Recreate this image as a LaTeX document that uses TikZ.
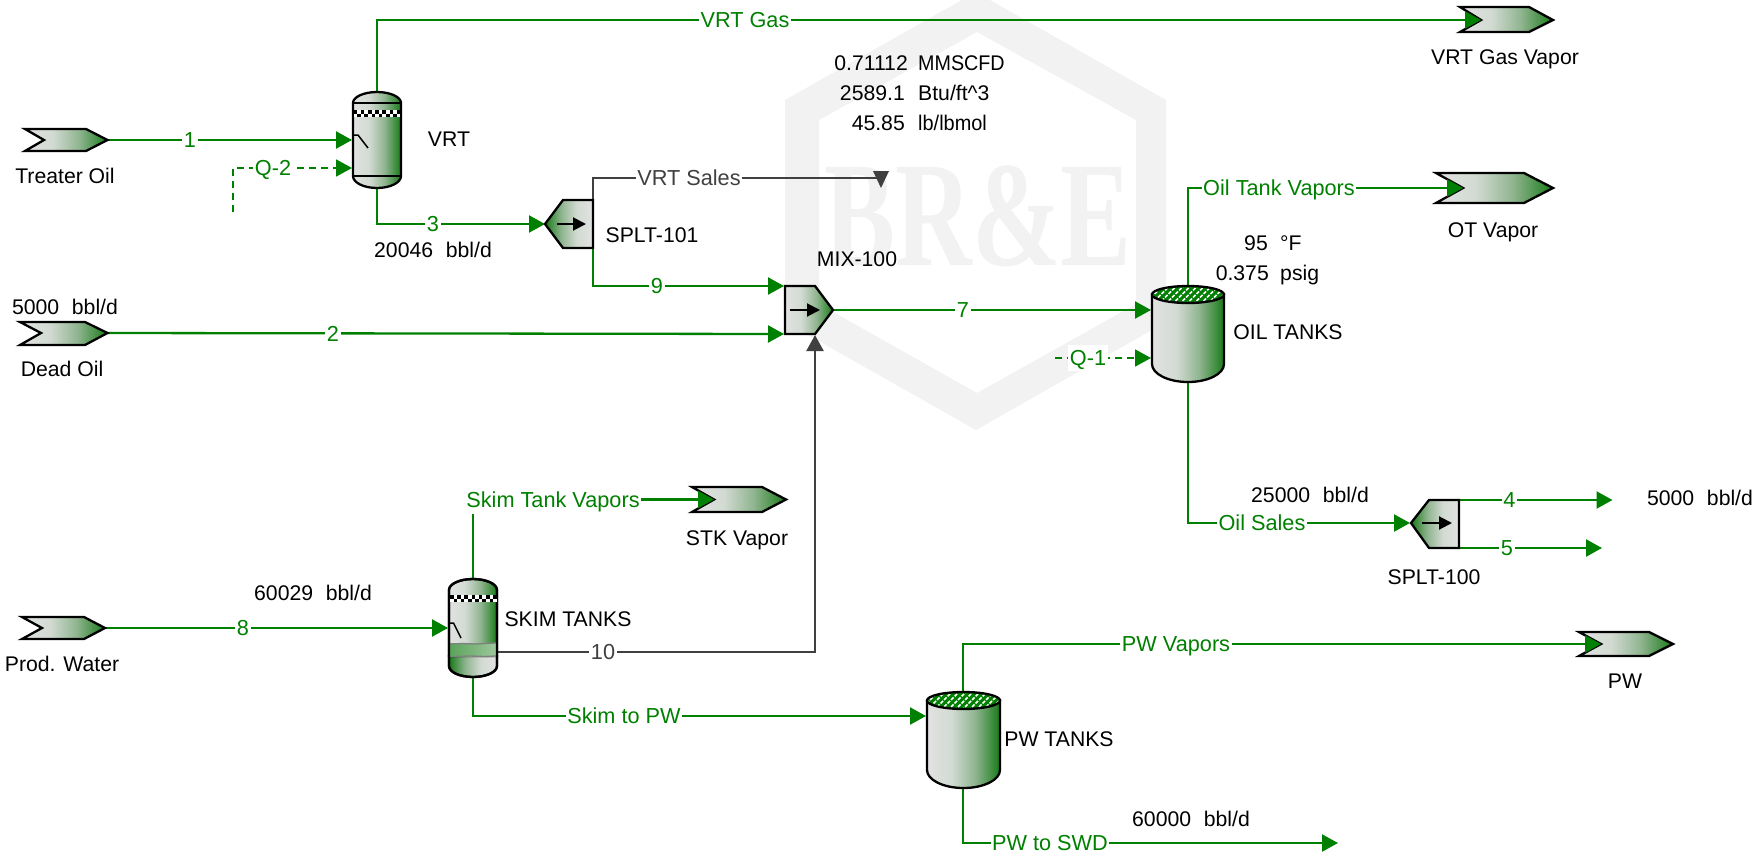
\documentclass[tikz,border=0pt]{standalone}
\usepackage{fontspec}
\setmainfont{Liberation Sans}
\newfontfamily\wmfont{Liberation Serif}
\usetikzlibrary{arrows.meta}
\definecolor{strm}{HTML}{008000}
\definecolor{darkstrm}{HTML}{404040}
\definecolor{wm}{HTML}{F2F2F2}
\definecolor{cA}{HTML}{E2E2E2}
\definecolor{cB}{HTML}{D2DAD2}
\definecolor{cC}{HTML}{8FB48F}
\definecolor{cD}{HTML}{187A18}
\definecolor{liqA}{HTML}{5BA35B}
\definecolor{liqB}{HTML}{9CC79C}
\pgfdeclarehorizontalshading{eqpshade}{100bp}{color(0bp)=(cA);color(25bp)=(cA);color(42bp)=(cB);color(58bp)=(cC);color(75bp)=(cD);color(100bp)=(cD)}
\tikzset{
  txt/.style={font=\fontsize{21.2}{25}\selectfont,text=black,inner sep=0pt,text height=15.3pt,text depth=0pt},
  slabel/.style={font=\fontsize{21.7}{25}\selectfont,text=strm,fill=white,inner xsep=1.5pt,inner ysep=5pt,text height=15.3pt,text depth=0pt},
  dlabel/.style={slabel,text=darkstrm},
  stream/.style={draw=strm,line width=2.3pt,-{Triangle[length=16pt,width=17pt]}},
  streamflat/.style={draw=strm,line width=2.3pt},
  energy/.style={draw=strm,line width=1.8pt,dash pattern=on 7pt off 5pt,-{Triangle[length=16pt,width=17pt]}},
  dark/.style={draw=darkstrm,line width=2.3pt},
  eqp/.style={shading=eqpshade,draw=black,line width=2.3pt,line join=miter},
  eqprev/.style={shading=eqpshade,shading angle=180,draw=black,line width=2.3pt},
  flowmark/.style={draw=black,line width=2pt,-{Triangle[length=13pt,width=13pt]}},
  weir/.style={draw=black,line width=1.5pt}
}
% x-notchtip x-notch x-shoulder x-tip ytop ymid ybot
\newcommand{\chev}[7]{\shadedraw[eqp] (#1,#5) -- (#3,#5) -- (#4,#6) -- (#3,#7) -- (#1,#7) -- (#2,#6) -- cycle;}
% centre x, top-ellipse y, x radius
\newcommand{\tanktop}[3]{%
  \begin{scope}
    \clip (#1,#2) ellipse [x radius=#3pt,y radius=8.5pt];
    \fill[strm] (#1-#3,#2-9) rectangle (#1+#3,#2+9);
    \foreach \k in {-48,-41,...,48}{
      \draw[white,line width=1.5pt,dash pattern=on 3.5pt off 1.5pt] (#1+\k-10,#2+10) -- (#1+\k+10,#2-10);
    }
  \end{scope}
  \draw[black,line width=2.3pt] (#1,#2) ellipse [x radius=#3pt,y radius=8.5pt];}
% x0, y0, number of columns : two rows of checker squares
\newcommand{\checker}[3]{%
  \fill[white] (#1,#2) rectangle (#1+#3*3.6,#2+7.2);
  \foreach \c in {1,...,#3}{
    \pgfmathsetmacro{\xa}{#1+(\c-1)*3.6}
    \pgfmathsetmacro{\rowtop}{mod(\c,2)==1 ? 0 : 3.6}
    \fill[black] (\xa,#2+\rowtop) rectangle (\xa+3.6,#2+\rowtop+3.6);
  }}
\begin{document}
\begin{tikzpicture}[x=1pt,y=-1pt]
\useasboundingbox (0,0) rectangle (1761,854);
% watermark
\begin{scope}
  \clip (0,0) rectangle (1761,854);
  \fill[wm,even odd rule] (976,-8) -- (1166,100) -- (1166,322) -- (976,430) -- (785,322) -- (785,100) -- cycle
     (977,32) -- (1136,120) -- (1136,304) -- (977,393) -- (819,304) -- (819,120) -- cycle;
  \node[inner sep=0pt,text=wm,font=\wmfont\bfseries\fontsize{150}{150}\selectfont] (wmtext) at (978,216) {\scalebox{.71}[1]{BR\&E}};
\end{scope}

% port coordinates
\coordinate (treaterOut) at (107.5,140);
\coordinate (vrtInA) at (352,140);
\coordinate (vrtInB) at (352,168);
\coordinate (qtwoFree) at (233,212);
\coordinate (vrtTop) at (377,92);
\coordinate (vrtBot) at (377,188);
\coordinate (vrtGasEnd) at (1481,20);
\coordinate (spltAIn) at (545,224);
\coordinate (spltATop) at (593,200);
\coordinate (spltABot) at (593,248);
\coordinate (vrtSalesEnd) at (881,178);
\coordinate (mixInA) at (784,286);
\coordinate (deadOut) at (107.5,333);
\coordinate (mixInB) at (784,334);
\coordinate (mixInC) at (815,335);
\coordinate (mixOut) at (833,310);
\coordinate (oilIn) at (1151,310);
\coordinate (oilQ) at (1151,358);
\coordinate (qoneFree) at (1055,358);
\coordinate (oilTop) at (1188,286);
\coordinate (oilBot) at (1188,382);
\coordinate (otEnd) at (1463,188);
\coordinate (spltBIn) at (1410,523);
\coordinate (spltBTop) at (1459,500);
\coordinate (spltBBot) at (1459,548);
\coordinate (fourEnd) at (1612.5,500);
\coordinate (fiveEnd) at (1602,548);
\coordinate (prodOut) at (105,628);
\coordinate (skimIn) at (448,628);
\coordinate (skimTop) at (473,579);
\coordinate (skimBot) at (473,677);
\coordinate (skimSide) at (497,652);
\coordinate (stkEnd) at (714,499.5);
\coordinate (pwIn) at (926,716);
\coordinate (pwTop) at (963,692);
\coordinate (pwBot) at (963,788);
\coordinate (pwEnd) at (1601,644);
\coordinate (swdEnd) at (1338,843);

% connectors
\draw[stream] (treaterOut) -- (vrtInA);
\draw[energy] (qtwoFree) |- (vrtInB);
\draw[stream] (vrtTop) |- (vrtGasEnd);
\draw[stream] (vrtBot) |- (spltAIn);
\draw[dark] (spltATop) |- (vrtSalesEnd);
\fill[darkstrm] (873,171) -- (889,171) -- (881,188) -- cycle;
\draw[stream] (spltABot) |- (mixInA);
\draw[stream] (deadOut) -- (mixInB);
\draw[stream] (mixOut) -- (oilIn);
\draw[energy] (qoneFree) -- (oilQ);
\draw[stream] (oilTop) |- (otEnd);
\draw[stream] (oilBot) |- (spltBIn);
\draw[stream] (spltBTop) -- (fourEnd);
\draw[stream] (spltBBot) -- (fiveEnd);
\draw[stream] (prodOut) -- (skimIn);
\draw[streamflat] (skimTop) -- ++(0,-80);
\draw[stream] (473,499.5) -- (stkEnd);
\draw[dark,-{Triangle[length=16pt,width=17pt]}] (skimSide) -| (mixInC);
\draw[stream] (skimBot) |- (pwIn);
\draw[stream] (pwTop) |- (pwEnd);
\draw[stream] (pwBot) |- (swdEnd);

% feed chevrons
\chev{25}{44}{86}{107.5}{129}{140}{151}
\chev{20}{41}{85}{107.5}{322}{333}{345}
\chev{22}{42}{84}{105}{617}{628}{639}

% vapor chevrons: shape first, then the line end on top
\chev{1460}{1481}{1529}{1553}{7}{20}{32}
\draw[stream] (1458,20) -- (vrtGasEnd);
\chev{1436}{1463}{1524}{1553}{173}{188}{203}
\draw[stream] (1442,188) -- (otEnd);
\chev{692}{714}{762}{786}{487}{499.5}{512}
\draw[stream] (693,499.5) -- (stkEnd);
\chev{1579}{1601}{1649}{1673}{632}{644}{656}
\draw[stream] (1580,644) -- (pwEnd);

% VRT vessel
\shadedraw[eqp] (353,103) arc[start angle=180,end angle=0,x radius=24pt,y radius=11pt] -- (401,176) arc[start angle=0,end angle=-180,x radius=24pt,y radius=12pt] -- cycle;
\draw[black,line width=1.5pt] (353,103) -- (401,103) (353,176) -- (401,176);
\checker{353.5}{110}{13}
\draw[weir] (354,135) -- (358,135) -- (368,148);

% Skim tank vessel
\shadedraw[eqp] (449,590) arc[start angle=180,end angle=0,x radius=24pt,y radius=11pt] -- (497,656) -- (449,656) -- cycle;
\shadedraw[eqprev] (449,656) -- (497,656) -- (497,666) arc[start angle=0,end angle=-180,x radius=24pt,y radius=11pt] -- cycle;
\shade[left color=liqA,right color=liqB] (450,643) -- (496,643) -- (496,656) -- (450,656) -- cycle;
\draw[gray,line width=1.3pt] (450,644) -- (462,643.5) -- (475,644) -- (496,643);
\draw[gray,line width=1.3pt] (450,656.5) -- (470,656) -- (485,656.5) -- (496,656);
\draw[black,line width=2.3pt] (449,590) arc[start angle=180,end angle=0,x radius=24pt,y radius=11pt] -- (497,666) arc[start angle=0,end angle=-180,x radius=24pt,y radius=11pt] -- cycle;
\checker{450}{595}{13}
\draw[weir] (450,623) -- (453.5,623) -- (461,638);

% splitters and mixer
\shadedraw[eqprev] (545,224) -- (563,200) -- (593,200) -- (593,248) -- (563,248) -- cycle;
\draw[flowmark] (557,224) -- (586,224);
\shadedraw[eqp] (785,286) -- (815,286) -- (833,310) -- (815,334) -- (785,334) -- cycle;
\draw[flowmark] (790,310) -- (820,310);
\shadedraw[eqprev] (1411,523) -- (1429,500) -- (1459,500) -- (1459,548) -- (1429,548) -- cycle;
\draw[flowmark] (1422,523) -- (1452,523);

% tanks
\shadedraw[eqp] (1152,294.5) -- (1152,364) arc[start angle=180,end angle=360,x radius=36pt,y radius=18pt] -- (1224,294.5) -- cycle;
\tanktop{1188}{294.5}{36}
\shadedraw[eqp] (927,700.5) -- (927,770) arc[start angle=180,end angle=360,x radius=36.5pt,y radius=18pt] -- (1000,700.5) -- cycle;
\tanktop{963.5}{700.5}{36.5}

% stream labels
\node[slabel] (l1) at (190,140) {1};
\node[slabel] (lq2) at (273,168) {Q-2};
\node[slabel] (l3) at (433,224) {3};
\node[slabel] (lvg) at (745,20) {VRT Gas};
\node[dlabel] (lvs) at (689,178) {VRT Sales};
\node[slabel] (l9) at (657,286) {9};
\node[slabel] (l2) at (333,333.5) {2};
\node[slabel] (l7) at (963,310) {7};
\node[slabel] (lq1) at (1088,358) {Q-1};
\node[slabel] (lotv) at (1279,188) {Oil Tank Vapors};
\node[slabel] (los) at (1262,523) {Oil Sales};
\node[slabel] (l4) at (1509.5,500) {4};
\node[slabel] (l5) at (1507,548) {5};
\node[slabel] (l8) at (243,628) {8};
\node[slabel,minimum height=28pt] (lstv) at (553,499.5) {Skim Tank Vapors};
\node[dlabel] (l10) at (603,652) {10};
\node[slabel] (lstp) at (624,715.5) {Skim to PW};
\node[slabel] (lpwv) at (1176,644) {PW Vapors};
\node[slabel] (lswd) at (1050,843) {PW to SWD};

% equipment names
\node[txt] (tTreater) at (65,176) {Treater Oil};
\node[txt] (tDead) at (62,369) {Dead Oil};
\node[txt] (tProd) at (62,664) {Prod. Water};
\node[txt] (tVRT) at (449,139) {VRT};
\node[txt] (tSplA) at (652,235) {SPLT-101};
\node[txt] (tMix) at (857,259) {MIX-100};
\node[txt] (tOil) at (1288,332) {OIL TANKS};
\node[txt] (tVg) at (1505,57) {VRT Gas Vapor};
\node[txt] (tOt) at (1493,230) {OT Vapor};
\node[txt] (tSplB) at (1434,577) {SPLT-100};
\node[txt] (tPW) at (1625,681) {PW};
\node[txt] (tSkim) at (568,619) {SKIM TANKS};
\node[txt] (tStk) at (737,538) {STK Vapor};
\node[txt] (tPWT) at (1059,739) {PW TANKS};

% readouts
\node[txt] (r1) at (433,250) {20046\hspace{.6em}bbl/d};
\node[txt] (r2) at (65,307) {5000\hspace{.6em}bbl/d};
\node[txt] (r3) at (313,593) {60029\hspace{.6em}bbl/d};
\node[txt] (r4) at (1310,495) {25000\hspace{.6em}bbl/d};
\node[txt] (r5) at (1700,498) {5000\hspace{.6em}bbl/d};
\node[txt] (r6) at (1191,819) {60000\hspace{.6em}bbl/d};
\node[txt,anchor=east] (r7a) at (908,63) {0.71112};
\node[txt,anchor=west] (r7b) at (918,63) {\scalebox{.93}[1]{MMSCFD}};
\node[txt,anchor=east] (r8a) at (905,93) {2589.1};
\node[txt,anchor=west] (r8b) at (918,93) {Btu/ft\textasciicircum 3};
\node[txt,anchor=east] (r9a) at (905,123) {45.85};
\node[txt,anchor=west] (r9b) at (918,123) {\scalebox{.94}[1]{lb/lbmol}};
\node[txt,anchor=east] (r10a) at (1268,243) {95};
\node[txt,anchor=west] (r10b) at (1280,243) {°F};
\node[txt,anchor=east] (r11a) at (1269,273) {0.375};
\node[txt,anchor=west] (r11b) at (1280,273) {psig};
\end{tikzpicture}
\end{document}
